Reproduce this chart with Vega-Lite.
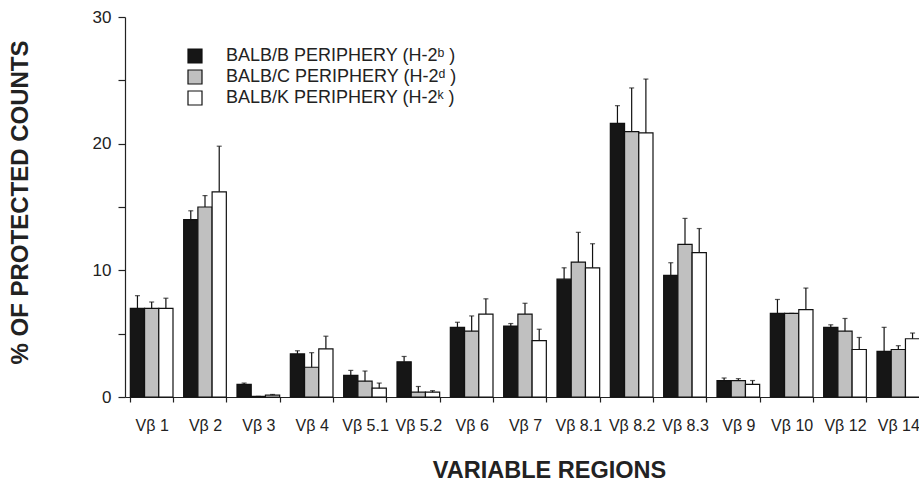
{
  "$schema": "https://vega.github.io/schema/vega-lite/v6.json",
  "width": 800,
  "height": 380,
  "autosize": {"type": "none"},
  "padding": {"left": 125, "top": 17, "right": -6, "bottom": 88},
  "background": "white",
  "config": {
    "view": {"stroke": null},
    "font": "Liberation Sans",
    "axis": {"domainColor": "#222", "tickColor": "#222", "labelColor": "#222", "titleColor": "#222", "grid": false, "domainWidth": 1.2, "tickWidth": 1.2}
  },
  "data": {
    "values": [
      {"region": "Vβ 1", "strain": "BALB/B PERIPHERY (H-2ᵇ )", "value": 7.0, "upper": 8.0},
      {"region": "Vβ 1", "strain": "BALB/C PERIPHERY (H-2ᵈ )", "value": 7.0, "upper": 7.5},
      {"region": "Vβ 1", "strain": "BALB/K PERIPHERY (H-2ᵏ )", "value": 7.0, "upper": 7.8},
      {"region": "Vβ 2", "strain": "BALB/B PERIPHERY (H-2ᵇ )", "value": 14.0, "upper": 14.7},
      {"region": "Vβ 2", "strain": "BALB/C PERIPHERY (H-2ᵈ )", "value": 15.0, "upper": 15.9},
      {"region": "Vβ 2", "strain": "BALB/K PERIPHERY (H-2ᵏ )", "value": 16.2, "upper": 19.8},
      {"region": "Vβ 3", "strain": "BALB/B PERIPHERY (H-2ᵇ )", "value": 1.0, "upper": 1.1},
      {"region": "Vβ 3", "strain": "BALB/C PERIPHERY (H-2ᵈ )", "value": 0.05, "upper": 0.05},
      {"region": "Vβ 3", "strain": "BALB/K PERIPHERY (H-2ᵏ )", "value": 0.15, "upper": 0.2},
      {"region": "Vβ 4", "strain": "BALB/B PERIPHERY (H-2ᵇ )", "value": 3.4, "upper": 3.65},
      {"region": "Vβ 4", "strain": "BALB/C PERIPHERY (H-2ᵈ )", "value": 2.35, "upper": 3.5},
      {"region": "Vβ 4", "strain": "BALB/K PERIPHERY (H-2ᵏ )", "value": 3.8, "upper": 4.8},
      {"region": "Vβ 5.1", "strain": "BALB/B PERIPHERY (H-2ᵇ )", "value": 1.7, "upper": 2.1},
      {"region": "Vβ 5.1", "strain": "BALB/C PERIPHERY (H-2ᵈ )", "value": 1.25, "upper": 2.05},
      {"region": "Vβ 5.1", "strain": "BALB/K PERIPHERY (H-2ᵏ )", "value": 0.7, "upper": 1.1},
      {"region": "Vβ 5.2", "strain": "BALB/B PERIPHERY (H-2ᵇ )", "value": 2.78, "upper": 3.2},
      {"region": "Vβ 5.2", "strain": "BALB/C PERIPHERY (H-2ᵈ )", "value": 0.38, "upper": 0.83},
      {"region": "Vβ 5.2", "strain": "BALB/K PERIPHERY (H-2ᵏ )", "value": 0.38, "upper": 0.5},
      {"region": "Vβ 6", "strain": "BALB/B PERIPHERY (H-2ᵇ )", "value": 5.5, "upper": 5.9},
      {"region": "Vβ 6", "strain": "BALB/C PERIPHERY (H-2ᵈ )", "value": 5.2, "upper": 6.4},
      {"region": "Vβ 6", "strain": "BALB/K PERIPHERY (H-2ᵏ )", "value": 6.55, "upper": 7.75},
      {"region": "Vβ 7", "strain": "BALB/B PERIPHERY (H-2ᵇ )", "value": 5.6, "upper": 5.8},
      {"region": "Vβ 7", "strain": "BALB/C PERIPHERY (H-2ᵈ )", "value": 6.55, "upper": 7.4},
      {"region": "Vβ 7", "strain": "BALB/K PERIPHERY (H-2ᵏ )", "value": 4.45, "upper": 5.35},
      {"region": "Vβ 8.1", "strain": "BALB/B PERIPHERY (H-2ᵇ )", "value": 9.3, "upper": 10.2},
      {"region": "Vβ 8.1", "strain": "BALB/C PERIPHERY (H-2ᵈ )", "value": 10.65, "upper": 13.0},
      {"region": "Vβ 8.1", "strain": "BALB/K PERIPHERY (H-2ᵏ )", "value": 10.2, "upper": 12.1},
      {"region": "Vβ 8.2", "strain": "BALB/B PERIPHERY (H-2ᵇ )", "value": 21.6, "upper": 23.0},
      {"region": "Vβ 8.2", "strain": "BALB/C PERIPHERY (H-2ᵈ )", "value": 20.95, "upper": 24.4},
      {"region": "Vβ 8.2", "strain": "BALB/K PERIPHERY (H-2ᵏ )", "value": 20.85, "upper": 25.1},
      {"region": "Vβ 8.3", "strain": "BALB/B PERIPHERY (H-2ᵇ )", "value": 9.6, "upper": 10.6},
      {"region": "Vβ 8.3", "strain": "BALB/C PERIPHERY (H-2ᵈ )", "value": 12.05, "upper": 14.1},
      {"region": "Vβ 8.3", "strain": "BALB/K PERIPHERY (H-2ᵏ )", "value": 11.4, "upper": 13.3},
      {"region": "Vβ 9", "strain": "BALB/B PERIPHERY (H-2ᵇ )", "value": 1.3, "upper": 1.5},
      {"region": "Vβ 9", "strain": "BALB/C PERIPHERY (H-2ᵈ )", "value": 1.3, "upper": 1.45},
      {"region": "Vβ 9", "strain": "BALB/K PERIPHERY (H-2ᵏ )", "value": 1.0, "upper": 1.3},
      {"region": "Vβ 10", "strain": "BALB/B PERIPHERY (H-2ᵇ )", "value": 6.6, "upper": 7.7},
      {"region": "Vβ 10", "strain": "BALB/C PERIPHERY (H-2ᵈ )", "value": 6.6, "upper": 6.6},
      {"region": "Vβ 10", "strain": "BALB/K PERIPHERY (H-2ᵏ )", "value": 6.9, "upper": 8.6},
      {"region": "Vβ 12", "strain": "BALB/B PERIPHERY (H-2ᵇ )", "value": 5.5, "upper": 5.7},
      {"region": "Vβ 12", "strain": "BALB/C PERIPHERY (H-2ᵈ )", "value": 5.2, "upper": 6.2},
      {"region": "Vβ 12", "strain": "BALB/K PERIPHERY (H-2ᵏ )", "value": 3.75, "upper": 4.7},
      {"region": "Vβ 14", "strain": "BALB/B PERIPHERY (H-2ᵇ )", "value": 3.6, "upper": 5.5},
      {"region": "Vβ 14", "strain": "BALB/C PERIPHERY (H-2ᵈ )", "value": 3.75, "upper": 4.05},
      {"region": "Vβ 14", "strain": "BALB/K PERIPHERY (H-2ᵏ )", "value": 4.6, "upper": 5.05}
    ]
  },
  "encoding": {
    "x": {
      "field": "region", "type": "nominal",
      "sort": ["Vβ 1", "Vβ 2", "Vβ 3", "Vβ 4", "Vβ 5.1", "Vβ 5.2", "Vβ 6", "Vβ 7", "Vβ 8.1", "Vβ 8.2", "Vβ 8.3", "Vβ 9", "Vβ 10", "Vβ 12", "Vβ 14"],
      "scale": {"paddingInner": 0.2, "paddingOuter": 0.1},
      "axis": {"title": "VARIABLE REGIONS", "labelAngle": 0, "tickBand": "extent", "tickSize": 5, "labelPadding": 15, "labelFontSize": 16, "titleFontSize": 23.5, "titleFontWeight": "bold", "titleX": 424, "titleY": 80, "titleBaseline": "alphabetic"}
    },
    "xOffset": {
      "field": "strain", "type": "nominal",
      "sort": ["BALB/B PERIPHERY (H-2ᵇ )", "BALB/C PERIPHERY (H-2ᵈ )", "BALB/K PERIPHERY (H-2ᵏ )"],
      "scale": {"paddingInner": 0, "paddingOuter": 0}
    }
  },
  "layer": [
    {
      "mark": {"type": "bar", "stroke": "#111", "strokeWidth": 1.2},
      "encoding": {
        "y": {
          "field": "value", "type": "quantitative",
          "scale": {"domain": [0, 30]},
          "axis": {"title": "% OF PROTECTED COUNTS", "values": [0, 5, 10, 15, 20, 25, 30], "labelExpr": "datum.value % 10 === 0 ? datum.label : ''", "tickSize": 7, "labelPadding": 7, "labelFontSize": 17, "titleFontSize": 24, "titleFontWeight": "bold", "titleX": -98, "titleY": 185, "titleBaseline": "alphabetic", "titleAngle": -90}
        },
        "fill": {
          "field": "strain", "type": "nominal",
          "scale": {"domain": ["BALB/B PERIPHERY (H-2ᵇ )", "BALB/C PERIPHERY (H-2ᵈ )", "BALB/K PERIPHERY (H-2ᵏ )"], "range": ["#161616", "#c0c0c0", "#ffffff"]},
          "legend": {"orient": "none", "legendX": 61, "legendY": 30, "title": null, "symbolType": "square", "symbolSize": 196, "symbolStrokeColor": "#111", "symbolStrokeWidth": 1.2, "labelFontSize": 18, "labelOffset": 22, "labelLimit": 0, "rowPadding": 1, "padding": 0, "labelColor": "#222"}
        }
      }
    },
    {
      "mark": {"type": "rule", "stroke": "#111", "strokeWidth": 1.2},
      "encoding": {
        "y": {"field": "value", "type": "quantitative"},
        "y2": {"field": "upper"}
      }
    },
    {
      "mark": {"type": "tick", "color": "#111", "thickness": 1.2, "size": 5, "orient": "horizontal"},
      "encoding": {
        "y": {"field": "upper", "type": "quantitative"}
      }
    }
  ]
}
